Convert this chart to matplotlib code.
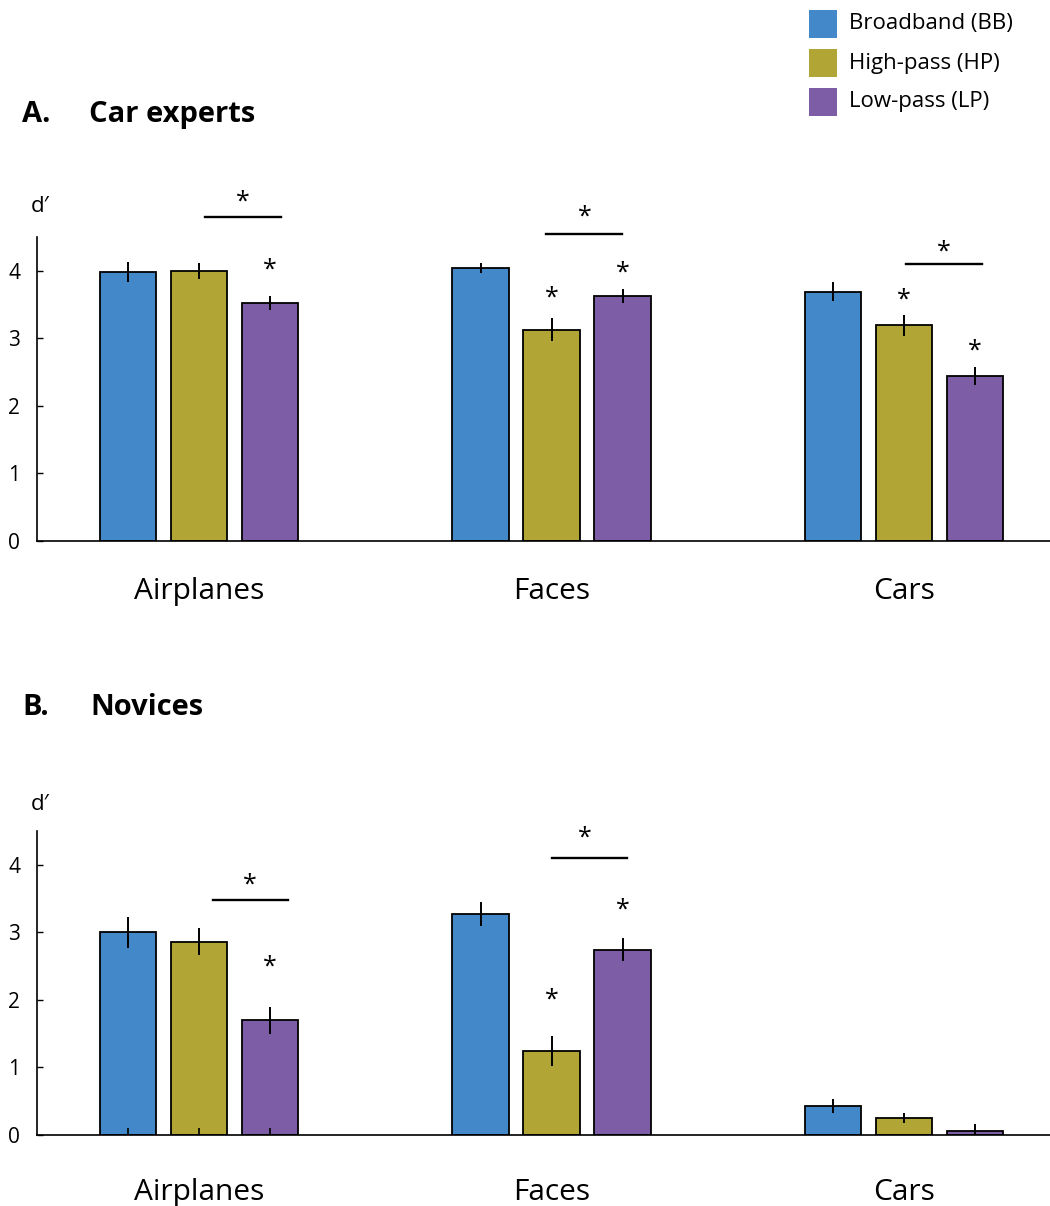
import numpy as np
import matplotlib
matplotlib.use("Agg")
import matplotlib.pyplot as plt
from matplotlib.patches import Rectangle

plt.rcParams['font.family'] = ['Open Sans', 'DejaVu Sans']

# ---- data ----
categories = ["Airplanes", "Faces", "Cars"]
conditions = ["Broadband (BB)", "High-pass (HP)", "Low-pass (LP)"]
colors = ["#4389c9", "#b0a535", "#7e5da7"]

# Panel A: car experts (rows = conditions, columns = categories)
experts_mean = [[3.98, 4.04, 3.69],
                [4.00, 3.13, 3.19],
                [3.52, 3.63, 2.44]]
experts_err = [[0.15, 0.08, 0.14],
               [0.12, 0.17, 0.15],
               [0.10, 0.10, 0.13]]

# Panel B: novices
novices_mean = [[3.00, 3.27, 0.43],
                [2.86, 1.24, 0.25],
                [1.70, 2.74, 0.06]]
novices_err = [[0.23, 0.18, 0.10],
               [0.20, 0.22, 0.07],
               [0.20, 0.17, 0.10]]

# single stars vs. broadband: (category, condition, star height)
experts_stars = [(0, 2, 4.01), (1, 1, 3.60), (1, 2, 3.97),
                 (2, 1, 3.57), (2, 2, 2.81)]
novices_stars = [(0, 2, 2.49), (1, 1, 2.00), (1, 2, 3.33)]
# HP vs LP brackets: (x start, x end, line height, star x, star height)
experts_brackets = [(0.017, 0.233, 4.80, 0.125, 5.02),
                    (0.984, 1.200, 4.55, 1.095, 4.80),
                    (2.006, 2.221, 4.10, 2.113, 4.28)]
novices_brackets = [(0.040, 0.252, 3.48, 0.145, 3.70),
                    (1.001, 1.214, 4.10, 1.095, 4.39)]

offset = 0.2014
width = 0.159


def draw_panel(ax, means, errs, stars, brackets, label_y, dprime_y,
               minor_ticks):
    x = np.arange(len(categories))
    for i in range(len(conditions)):
        pos = x + (i - 1) * offset
        ax.bar(pos, means[i], width, color=colors[i], edgecolor="black",
               linewidth=1.3, zorder=2)
        ax.errorbar(pos, means[i], yerr=errs[i], fmt="none", ecolor="black",
                    elinewidth=1.4, capsize=0, zorder=3)

    # significance stars
    for c, cond, sy in stars:
        ax.text(c + (cond - 1) * offset, sy, "*", ha="center",
                va="center", fontsize=18, clip_on=False)
    for x0, x1, ly, sx, sy in brackets:
        ax.plot([x0, x1], [ly, ly], color="black", lw=1.7, clip_on=False)
        ax.text(sx, sy, "*", ha="center", va="center", fontsize=18,
                clip_on=False)

    ax.set_xlim(-0.4596, 2.414)
    ax.set_ylim(0, 4.5)
    ax.set_axisbelow(False)
    ax.spines["top"].set_visible(False)
    ax.spines["right"].set_visible(False)
    ax.spines["left"].set_linewidth(1.2)
    ax.spines["bottom"].set_linewidth(1.2)
    ax.set_yticks([0, 1, 2, 3, 4])
    ax.tick_params(axis="y", direction="in", length=4, width=1, labelsize=15,
                   pad=12)
    ax.set_xticks([])
    if minor_ticks:
        # small ticks only under the first group
        ax.set_xticks([-offset, 0, offset], minor=True)
        ax.tick_params(axis="x", which="minor", direction="in", length=5,
                       width=1.2, labelbottom=False)

    # category names under each group
    for c, name in enumerate(categories):
        ax.text(c, label_y, name, ha="center", va="baseline", fontsize=21.5,
                clip_on=False)
    ax.text(-0.477, dprime_y, "d\u2032", fontsize=16, ha="left",
            va="baseline", clip_on=False)


fig = plt.figure(figsize=(10.5, 12.06), dpi=100)
ax_a = fig.add_axes([0.0352, 0.5514, 0.9648, 0.2521])
ax_b = fig.add_axes([0.0352, 0.0589, 0.9648, 0.2521])

draw_panel(ax_a, experts_mean, experts_err, experts_stars,
           experts_brackets, -0.86, 4.87, False)
draw_panel(ax_b, novices_mean, novices_err, novices_stars,
           novices_brackets, -0.963, 4.81, True)

# panel titles
H = 1206.0
fig.text(22 / 1050, 1 - 122 / H, "A.", fontsize=21, fontweight="bold",
         va="baseline")
fig.text(89 / 1050, 1 - 122 / H, "Car experts", fontsize=21,
         fontweight="bold", va="baseline")
fig.text(22 / 1050, 1 - 715 / H, "B.", fontsize=21, fontweight="bold",
         va="baseline")
fig.text(90 / 1050, 1 - 715 / H, "Novices", fontsize=21,
         fontweight="bold", va="baseline")

# legend (top right)
for i, name in enumerate(conditions):
    yc = 24 + 39 * i
    fig.add_artist(Rectangle((809 / 1050, 1 - (yc + 14) / H), 28 / 1050,
                             28 / H, transform=fig.transFigure,
                             facecolor=colors[i], edgecolor="none"))
    fig.text(849 / 1050, 1 - yc / H, name, fontsize=16, va="center",
             ha="left")

fig.savefig("out.png", dpi=100)
